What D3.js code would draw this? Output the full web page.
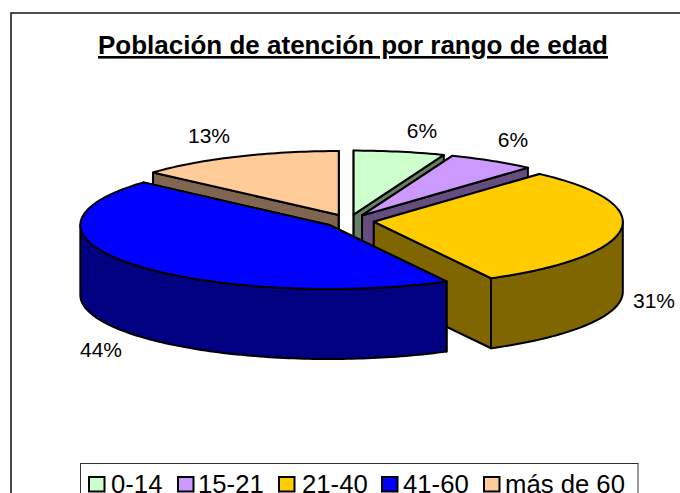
<!DOCTYPE html>
<html><head><meta charset="utf-8">
<script src="https://cdn.jsdelivr.net/npm/d3@7"></script>
<style>html,body{margin:0;padding:0;background:#fff;overflow:hidden}svg{display:block}text{font-family:"Liberation Sans",Arial,sans-serif;fill:#000}</style>
</head><body><svg id="c" width="680" height="493"></svg>
<script>
const categories = ["0-14","15-21","21-40","41-60","más de 60"];
const values = [5.9,5.7,30.6,44.4,13.4];
const colors = ["#CCFFCC","#CC99FF","#FFCC00","#0000FF","#FFCC99"];
const wallColors = ["#668066","#664D80","#806600","#000080","#806650"];
const titleText = "Población de atención por rango de edad";
const drawOrder = [4,0,1,2,3];
const labelAnchors = [[422,138],[513,147],[654,308],[101,357],[209,143]];

const svg = d3.select("#c");
const cx=349, cy=221, rx=249, ry=64, depth=70, explode=25, squash=0.26;

svg.append("rect").attr("x",11).attr("y",13).attr("width",700).attr("height",520)
  .attr("fill","#fff").attr("stroke","#111").attr("stroke-width",1.5);

svg.append("text").attr("x",353).attr("y",54).attr("text-anchor","middle")
  .attr("font-size",26).attr("font-weight","bold").attr("text-decoration","underline").text(titleText);

const arcs = d3.pie().sort(null).value(d=>d)(values);
const line = d3.line();
const fmt = d3.format(".0%");
const total = d3.sum(values);

function pt(t,ox,oy,dz){return [ox+rx*Math.sin(t),oy-ry*Math.cos(t)+dz];}
function sample(a,b,ox,oy,dz){const n=Math.max(2,Math.ceil(Math.abs(b-a)/0.02));return d3.range(n+1).map(i=>pt(a+(b-a)*i/n,ox,oy,dz));}

drawOrder.forEach(i=>{
  const a=arcs[i], mid=(a.startAngle+a.endAngle)/2;
  const ox=cx+explode*Math.sin(mid), oy=cy-explode*squash*Math.cos(mid);
  const g=svg.append("g");
  const sty=(s,f)=>s.attr("fill",f).attr("stroke","#000").attr("stroke-width",2).attr("stroke-linejoin","round");
  [a.startAngle,a.endAngle].forEach(t=>{
    const p=pt(t,ox,oy,0), q=pt(t,ox,oy,depth);
    sty(g.append("path").attr("d",line([[ox,oy],p,q,[ox,oy+depth]])+"Z"),wallColors[i]);
  });
  const s=Math.max(a.startAngle,Math.PI/2), e=Math.min(a.endAngle,Math.PI*1.5);
  if(e>s){
    const up=sample(s,e,ox,oy,0), dn=sample(e,s,ox,oy,depth);
    sty(g.append("path").attr("d",line(up.concat(dn))+"Z"),wallColors[i]);
  }
  const top=[[ox,oy]].concat(sample(a.startAngle,a.endAngle,ox,oy,0));
  sty(g.append("path").attr("d",line(top)+"Z"),colors[i]);
});

values.forEach((v,i)=>{
  svg.append("text").attr("x",labelAnchors[i][0]).attr("y",labelAnchors[i][1])
    .attr("text-anchor","middle").attr("font-size",21).text(fmt(v/total));
});

const lg=svg.append("g");
lg.append("rect").attr("x",80.5).attr("y",463.5).attr("width",557.5).attr("height",60)
  .attr("fill","#fff").attr("stroke","#333").attr("stroke-width",1);
const legendSwatchX=[89,178,279,382,484];
const legendTextX=[111,198,302,403,505];
categories.forEach((c,i)=>{
  lg.append("rect").attr("x",legendSwatchX[i]).attr("y",477).attr("width",15.5).attr("height",14.5)
    .attr("fill",colors[i]).attr("stroke","#000").attr("stroke-width",2);
  lg.append("text").attr("x",legendTextX[i]).attr("y",493).attr("font-size",25.7).text(c);
});
</script></body></html>
